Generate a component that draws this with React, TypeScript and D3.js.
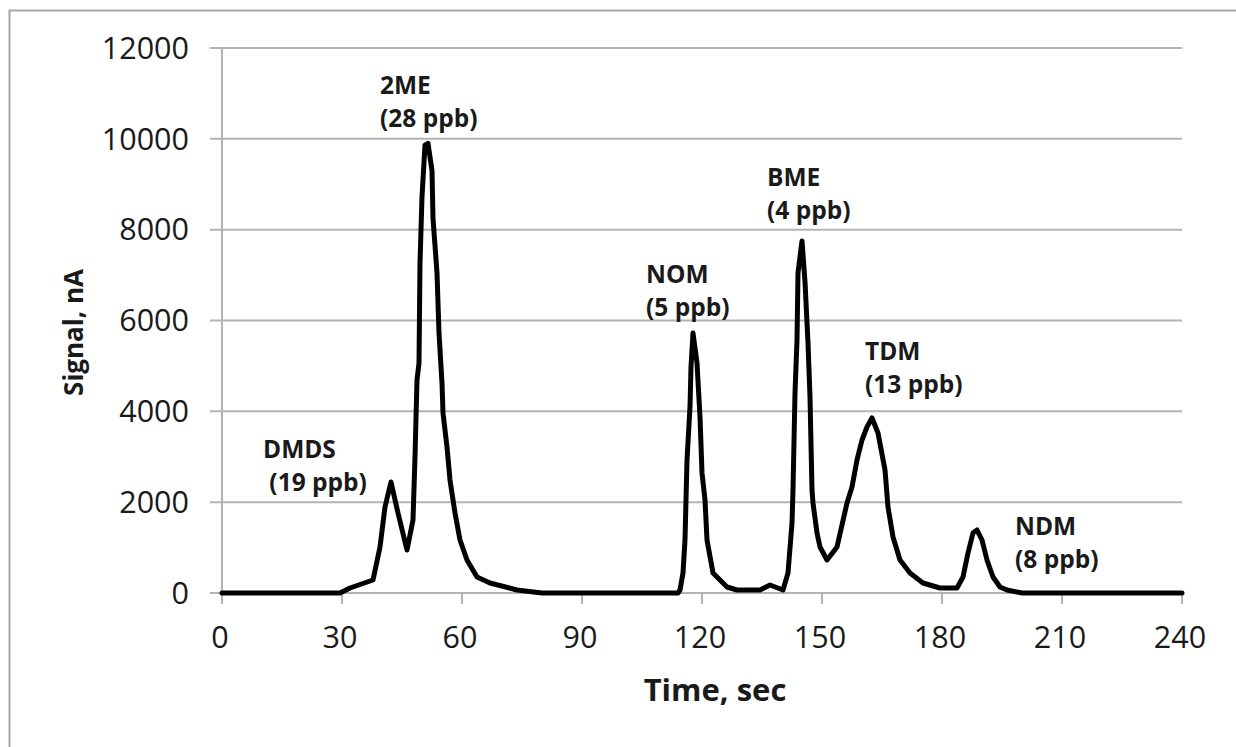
import React from 'react';
import * as d3 from 'd3';

// chromatogram trace (time in sec, signal in nA)
const time = [
  0, 29.5, 32, 37.75, 39.5, 40.75, 42.25, 44, 46.25, 47.75, 48.25, 48.75, 49.25, 49.5, 50, 50.75, 51.5,
  52.5, 52.75, 53.75, 54.25, 55, 55.25, 56.25, 57, 58.25, 59.5, 61.25, 63.75, 67, 73.75, 80,
  114, 114.5, 115.25, 115.75, 116.25, 117, 117.25, 117.75, 118.75, 119.5, 120, 120.75, 121.25, 122.75,
  126.25, 128.75, 134.5, 137, 140.25, 141.5, 142.5, 142.75, 143.25, 143.75, 144, 145, 145.75, 146.5,
  147, 147.5, 147.75, 148.75, 149.5, 151.25, 153.75, 156.25, 157.5, 158.75, 160, 161.25, 162.5, 164,
  165.75, 166.5, 167.75, 169.5, 172, 175.25, 179.5, 183.75, 185.25, 186.5, 187.75, 188.75, 190, 191.25,
  192.75, 194.5, 196.25, 200, 240,
];
const signal = [
  0, 0, 110, 286, 1012, 1893, 2444, 1761, 947, 1607, 2995, 4690, 5065, 7267, 8720, 9860, 9900,
  9300, 8250, 7050, 5725, 4624, 3964, 3215, 2488, 1762, 1167, 727, 352, 220, 66, 0,
  0, 66, 440, 1167, 2929, 4096, 4977, 5725, 5065, 3876, 2643, 2048, 1167, 440,
  132, 66, 66, 176, 66, 440, 1541, 2268, 4404, 5571, 7046, 7750, 6849, 5505,
  4316, 2268, 1982, 1321, 1013, 727, 1013, 1982, 2334, 2929, 3369, 3655, 3854, 3523,
  2709, 1894, 1233, 727, 440, 220, 110, 110, 352, 881, 1321, 1387, 1167, 727,
  352, 132, 66, 0, 0,
];

const xTicks = [0, 30, 60, 90, 120, 150, 180, 210, 240];
const yTicks = [0, 2000, 4000, 6000, 8000, 10000, 12000];

// peak labels, anchored in data units (left edge, first baseline)
const peakNames = ['DMDS', '2ME', 'NOM', 'BME', 'TDM', 'NDM'];
const peakConc = [' (19 ppb)', '(28 ppb)', '(5 ppb)', '(4 ppb)', '(13 ppb)', '(8 ppb)'];
const labelTime = [10.25, 39.5, 106, 136.25, 160.75, 198.25];
const labelSignal = [2973, 10988, 6826, 8962, 5130, 1277];

const W = 1236;
const H = 747;
const margin = { top: 48, right: 54, bottom: 154, left: 222 };
const font = '"Open Sans", "Noto Sans", sans-serif';
const grid = '#b3b3b3';

export default function App() {
  const x = d3.scaleLinear().domain([0, 240]).range([margin.left, W - margin.right]);
  const y = d3.scaleLinear().domain([0, 12000]).range([H - margin.bottom, margin.top]);
  const pts = time.map((t, i) => [t, signal[i]] as [number, number]);
  const line = d3.line<[number, number]>().x((d) => x(d[0])).y((d) => y(d[1]));

  return (
    <svg width={W} height={H} style={{ position: 'absolute', left: 0, top: 0, display: 'block', background: '#fff' }}>
      <rect x={9.5} y={10.5} width={W + 10} height={H + 10} fill="#fff" stroke="#a6a6a6" strokeWidth={2} />

      {yTicks.map((v) => (
        <g key={v}>
          <line x1={x(0) - 12} x2={x(240)} y1={y(v)} y2={y(v)} stroke={grid} strokeWidth={2} />
          <text x={189} y={y(v)} dy="0.35em" textAnchor="end" fontFamily={font} fontSize={30.5} fill="#1a1a1a">
            {v}
          </text>
        </g>
      ))}
      <line x1={x(0)} x2={x(0)} y1={y(12000)} y2={y(0)} stroke={grid} strokeWidth={2} />
      {xTicks.map((t) => (
        <g key={t}>
          <line x1={x(t)} x2={x(t)} y1={y(0)} y2={y(0) + 11} stroke={grid} strokeWidth={2} />
          <text x={x(t) - 2} y={y(0) + 44} dy="0.35em" textAnchor="middle" fontFamily={font} fontSize={30.5} fill="#1a1a1a">
            {t}
          </text>
        </g>
      ))}

      <path d={line(pts) || ''} fill="none" stroke="#000" strokeWidth={5} strokeLinejoin="round" strokeLinecap="round" />

      {peakNames.map((n, i) => (
        <text key={n} x={x(labelTime[i])} y={y(labelSignal[i])} fontFamily={font} fontSize={24.5} fontWeight="bold" fill="#1a1a1a">
          <tspan x={x(labelTime[i])}>{n}</tspan>
          <tspan x={x(labelTime[i])} dy={33} style={{ whiteSpace: 'pre' }}>{peakConc[i]}</tspan>
        </text>
      ))}

      <text x={715} y={690} dy="0.35em" textAnchor="middle" fontFamily={font} fontSize={31} fontWeight="bold" fill="#1a1a1a">
        Time, sec
      </text>
      <text
        transform={`translate(74,${(y(0) + y(12000)) / 2 + 12}) rotate(-90)`}
        dy="0.35em"
        textAnchor="middle"
        fontFamily={font}
        fontSize={26}
        fontWeight="bold"
        fill="#1a1a1a"
      >
        Signal, nA
      </text>
    </svg>
  );
}
